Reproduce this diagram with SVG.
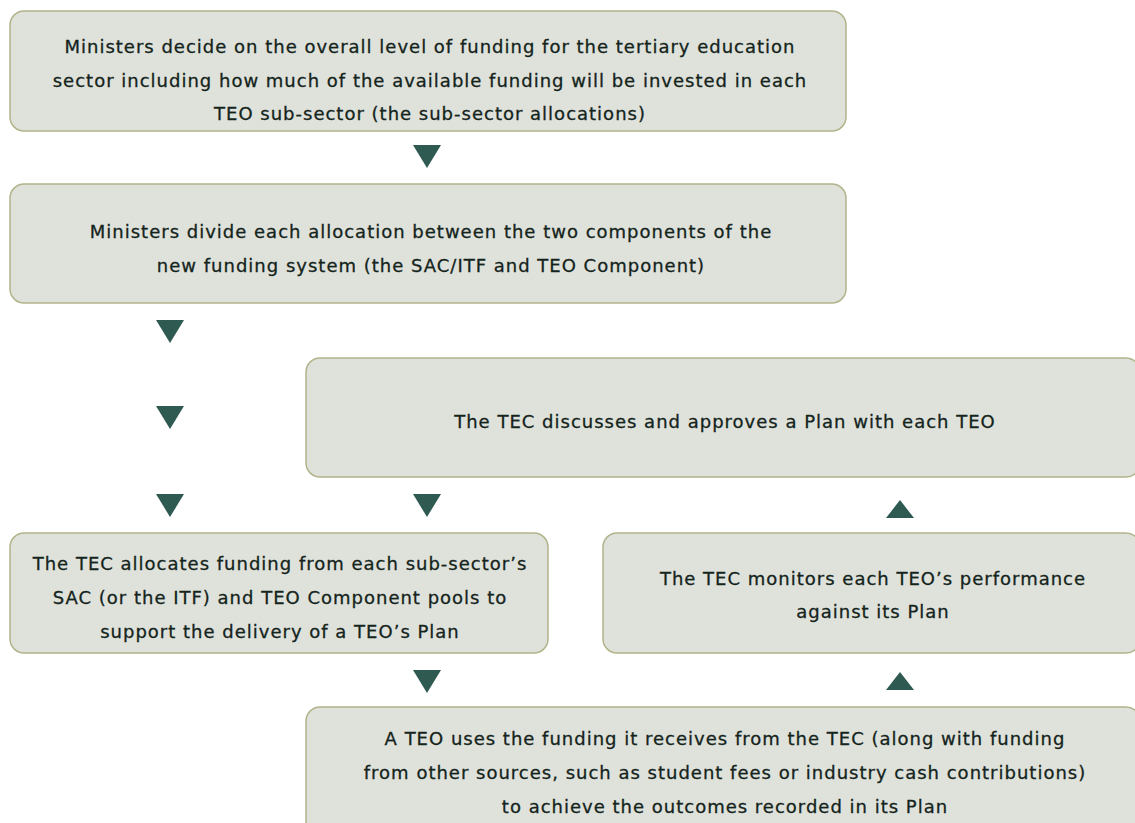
<svg xmlns="http://www.w3.org/2000/svg" width="1135" height="823" viewBox="0 0 1135 823">
  <style>
    .box { fill: #dfe2da; stroke: #b3b38c; stroke-width: 1.5; }
    .lbl { font-family: "DejaVu Sans", "Liberation Sans", sans-serif; font-size: 18px; letter-spacing: 1px; fill: #14241c; stroke: #14241c; stroke-width: 0.3; text-anchor: middle; }
    .arr { fill: #2e5a51; }
  </style>
  <defs>
    <polygon id="down" points="-14,0 14,0 0,23"/>
    <polygon id="up" points="-14,18 14,18 0,0"/>
  </defs>
  <rect x="0" y="0" width="1135" height="823" fill="#ffffff"/>

  <g id="connectors">
    <use href="#down" class="arr" x="427" y="145"/>
    <use href="#down" class="arr" x="170" y="320"/>
    <use href="#down" class="arr" x="170" y="406"/>
    <use href="#down" class="arr" x="170" y="494"/>
    <use href="#down" class="arr" x="427" y="494"/>
    <use href="#up" class="arr" x="900" y="500"/>
    <use href="#down" class="arr" x="427" y="670"/>
    <use href="#up" class="arr" x="900" y="672"/>
  </g>

  <g id="node-overall-funding">
    <rect class="box" x="10" y="11" width="836" height="120" rx="14"/>
    <text class="lbl" x="430" y="53">Ministers decide on the overall level of funding for the tertiary education</text>
    <text class="lbl" x="430" y="87">sector including how much of the available funding will be invested in each</text>
    <text class="lbl" x="430" y="120">TEO sub-sector (the sub-sector allocations)</text>
  </g>

  <g id="node-divide-allocation">
    <rect class="box" x="10" y="184" width="836" height="119" rx="14"/>
    <text class="lbl" x="431" y="238">Ministers divide each allocation between the two components of the</text>
    <text class="lbl" x="431" y="272">new funding system (the SAC/ITF and TEO Component)</text>
  </g>

  <g id="node-approve-plan">
    <rect class="box" x="306" y="358" width="834" height="119" rx="14"/>
    <text class="lbl" x="725" y="428">The TEC discusses and approves a Plan with each TEO</text>
  </g>

  <g id="node-allocate-funding">
    <rect class="box" x="10" y="533" width="538" height="120" rx="14"/>
    <text class="lbl" x="280" y="570">The TEC allocates funding from each sub-sector’s</text>
    <text class="lbl" x="280" y="604">SAC (or the ITF) and TEO Component pools to</text>
    <text class="lbl" x="280" y="638">support the delivery of a TEO’s Plan</text>
  </g>

  <g id="node-monitor">
    <rect class="box" x="603" y="533" width="537" height="120" rx="14"/>
    <text class="lbl" x="873" y="585">The TEC monitors each TEO’s performance</text>
    <text class="lbl" x="873" y="618">against its Plan</text>
  </g>

  <g id="node-teo-uses-funding">
    <rect class="box" x="306" y="707" width="834" height="130" rx="14"/>
    <text class="lbl" x="725" y="745">A TEO uses the funding it receives from the TEC (along with funding</text>
    <text class="lbl" x="725" y="779">from other sources, such as student fees or industry cash contributions)</text>
    <text class="lbl" x="725" y="813">to achieve the outcomes recorded in its Plan</text>
  </g>
</svg>
